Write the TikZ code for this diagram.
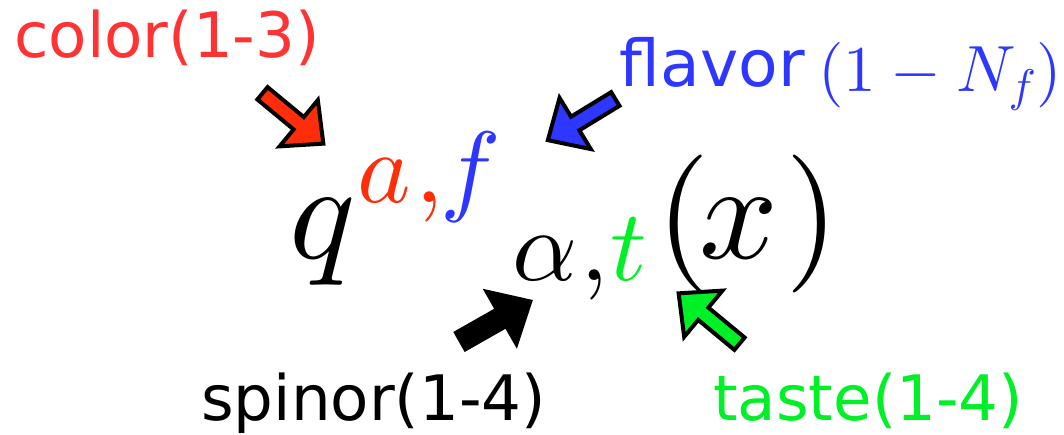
\documentclass[tikz,border=0pt]{standalone}
\usepackage{fontspec}
\DeclareFontShape{OML}{cmm}{m}{it}{<->cmmi10}{}
\DeclareFontShape{OT1}{cmr}{m}{n}{<->cmr10}{}
\DeclareFontShape{OMS}{cmsy}{m}{n}{<->cmsy10}{}
\DeclareFontShape{OMX}{cmex}{m}{n}{<->cmex10}{}
\newfontfamily\lblfont{DejaVu Sans}
\definecolor{tred}{RGB}{255,51,51}
\definecolor{ared}{RGB}{255,45,10}
\definecolor{fblue}{RGB}{45,55,255}
\definecolor{tgreen}{RGB}{0,240,40}
\tikzset{
  barrow/.pic={\path[pic actions] (0,-8) -- (47,-8) -- (47,-30) -- (79,0) -- (47,30) -- (47,8) -- (0,8) -- cycle;},
  barrowthick/.pic={\path[pic actions] (0,-9.5) -- (47,-9.5) -- (47,-30) -- (80,0) -- (47,30) -- (47,9.5) -- (0,9.5) -- cycle;}
}
\begin{document}
\begin{tikzpicture}[x=0.75pt,y=-0.75pt,
  lbl/.style={font=\lblfont\fontsize{47}{50}\selectfont, inner sep=0, anchor=base west},
  big/.style={font=\fontsize{103.5}{110}\selectfont, inner sep=0, anchor=base},
  small/.style={font=\fontsize{76}{80}\selectfont, inner sep=0, anchor=base},
  blockarrow/.style={line width=3pt, line join=miter, draw=black}]
\useasboundingbox (0,0) rectangle (1064,435);
% labels
\node[lbl, text=tred] (color) at (14,58) {color(1-3)};
\node[lbl, text=fblue, font=\lblfont\fontsize{48.5}{50}\selectfont] (flavor) at (619.5,87) {flavor};
\node[inner sep=0, anchor=base west, font=\fontsize{49}{52}\selectfont, text=fblue] (nf) at (818,92) {$(1-N_f)$};
\node[lbl, text=black] (spinor) at (201,420) {spinor(1-4)};
\node[lbl, text=tgreen] (taste) at (713,420) {taste(1-4)};
% formula
\node[big] (q) at (323,258) {$q$};
\node[small, text=ared] (a) at (384,202) {$a$};
\node[small, text=ared] (c1) at (430,202) {$,$};
\node[small, text=fblue] (f) at (471,202) {$f$};
\node[small] (al) at (545,280) {$\alpha$};
\node[small] (c2) at (595,280) {$,$};
\node[small, text=tgreen] (t) at (629,280) {$t$};
\node[big] (lp) at (683,258) {$($};
\node[big] (xx) at (739,258) {$x$};
\node[big] (rp) at (812,258) {$)$};
% arrows
\pic[blockarrow, fill=ared, rotate=-39.6] at (262.5,93.3) {barrow};
\pic[blockarrow, fill=fblue, rotate=-148.6] at (615.3,99) {barrow};
\pic[blockarrow, fill=black, rotate=29.6] at (460.7,341) {barrowthick};
\pic[blockarrow, fill=tgreen, rotate=140.4] at (739.5,343.7) {barrow};
\end{tikzpicture}
\end{document}
